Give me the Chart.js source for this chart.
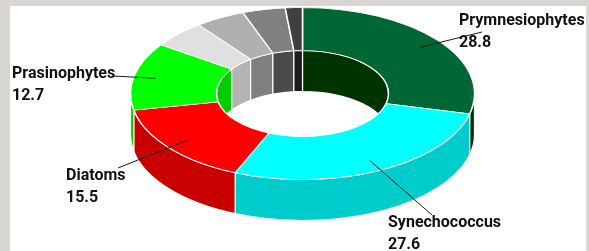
<!DOCTYPE html>
<html>
<head>
<meta charset="utf-8">
<script src="https://cdn.jsdelivr.net/npm/chart.js@4.4.0/dist/chart.umd.min.js"></script>
<style>
  html, body { margin: 0; padding: 0; }
  body { width: 589px; height: 251px; background: #d9d6d2; position: relative; overflow: hidden; }
  #paper { position: absolute; left: 10px; top: 6px; width: 576px; height: 245px; background: #fff; }
  #chart { position: absolute; left: 0; top: 0; }
</style>
</head>
<body>
<div id="paper"></div>
<canvas id="chart" width="589" height="251"></canvas>
<script>
const categories = ['Prymnesiophytes', 'Synechococcus', 'Diatoms', 'Prasinophytes', 'Other 1', 'Other 2', 'Other 3', 'Other 4'];
const values = [28.8, 27.6, 15.5, 12.7, 5.1, 4.7, 4.0, 1.6];
const topColors = ['#006633', '#00ffff', '#ff0000', '#00ff00', '#e0e0e0', '#b0b0b0', '#808080', '#404040'];
const sideColors = ['#003300', '#00cccc', '#c80000', '#00cc00', '#b4b4b4', '#808080', '#4a4a4a', '#1c1c1c'];
const showLabel = [true, true, true, true, false, false, false, false];

// callout placement: text left + first baseline, end of leader line
const callouts = [
  { x: 459, y: 25, lx: 482, ly: 32 },
  { x: 388, y: 227, lx: 432, ly: 215 },
  { x: 66, y: 180, lx: 118, ly: 168 },
  { x: 12, y: 78, lx: 113, ly: 76 }
];

const SQUASH = 0.5;  // tilt of the ring
const DEPTH = 41;    // height of the side walls, px
const TAU = Math.PI * 2;

function clipRange(a, b, lo, hi) {
  const out = [];
  for (let k = -1; k <= 1; k++) {
    const s = Math.max(a, lo + k * TAU);
    const e = Math.min(b, hi + k * TAU);
    if (e > s) out.push([s, e]);
  }
  return out;
}

function wall(ctx, x, y, r, s, e) {
  ctx.beginPath();
  ctx.ellipse(x, y, r, r * SQUASH, 0, s, e, false);
  ctx.ellipse(x, y + DEPTH, r, r * SQUASH, 0, e, s, true);
  ctx.closePath();
  ctx.fill();
  ctx.stroke();
}

const ring3d = {
  id: 'ring3d',
  beforeDatasetsDraw(chart) {
    const ctx = chart.ctx;
    const arcs = chart.getDatasetMeta(0).data;
    ctx.save();
    ctx.strokeStyle = '#ffffff';
    ctx.lineWidth = 1.2;
    arcs.forEach((arc, i) => {
      const { x, y, startAngle, endAngle, innerRadius, outerRadius } = arc;
      ctx.fillStyle = sideColors[i];
      // inner wall only shows on the far side, outer wall on the near side
      clipRange(startAngle, endAngle, Math.PI, TAU).forEach(([s, e]) => wall(ctx, x, y, innerRadius, s, e));
      clipRange(startAngle, endAngle, 0, Math.PI).forEach(([s, e]) => wall(ctx, x, y, outerRadius, s, e));
    });
    ctx.restore();

    const { x, y } = arcs[0];
    ctx.save();
    ctx.translate(x, y);
    ctx.scale(1, SQUASH);
    ctx.translate(-x, -y);
  },
  afterDatasetsDraw(chart) {
    chart.ctx.restore();
  },
  afterDraw(chart) {
    const ctx = chart.ctx;
    const arcs = chart.getDatasetMeta(0).data;
    ctx.save();
    arcs.forEach((arc, i) => {
      if (!showLabel[i]) return;
      const c = callouts[i];
      const mid = (arc.startAngle + arc.endAngle) / 2;
      const r = arc.outerRadius * 0.87;
      const ax = arc.x + r * Math.cos(mid);
      const ay = arc.y + r * SQUASH * Math.sin(mid);
      ctx.strokeStyle = '#1a1a1a';
      ctx.lineWidth = 1;
      ctx.beginPath();
      ctx.moveTo(ax, ay);
      ctx.lineTo(c.lx, c.ly);
      ctx.stroke();

      ctx.fillStyle = '#111111';
      ctx.font = 'bold 16px Roboto';
      ctx.textBaseline = 'alphabetic';
      ctx.textAlign = 'left';
      ctx.fillText(categories[i], c.x, c.y);
      ctx.fillText(values[i].toFixed(1), c.x, c.y + 21.7);
    });
    ctx.restore();
  }
};

new Chart(document.getElementById('chart'), {
  type: 'doughnut',
  data: {
    labels: categories,
    datasets: [{
      data: values,
      backgroundColor: topColors,
      borderColor: '#ffffff',
      borderWidth: 1.5,
      clip: false
    }]
  },
  options: {
    responsive: false,
    animation: false,
    events: [],
    radius: 172,
    cutout: '50%',
    layout: { padding: { left: 16, right: 0, top: 0, bottom: 64 } },
    plugins: {
      legend: { display: false },
      tooltip: { enabled: false }
    }
  },
  plugins: [ring3d]
});
</script>
</body>
</html>
